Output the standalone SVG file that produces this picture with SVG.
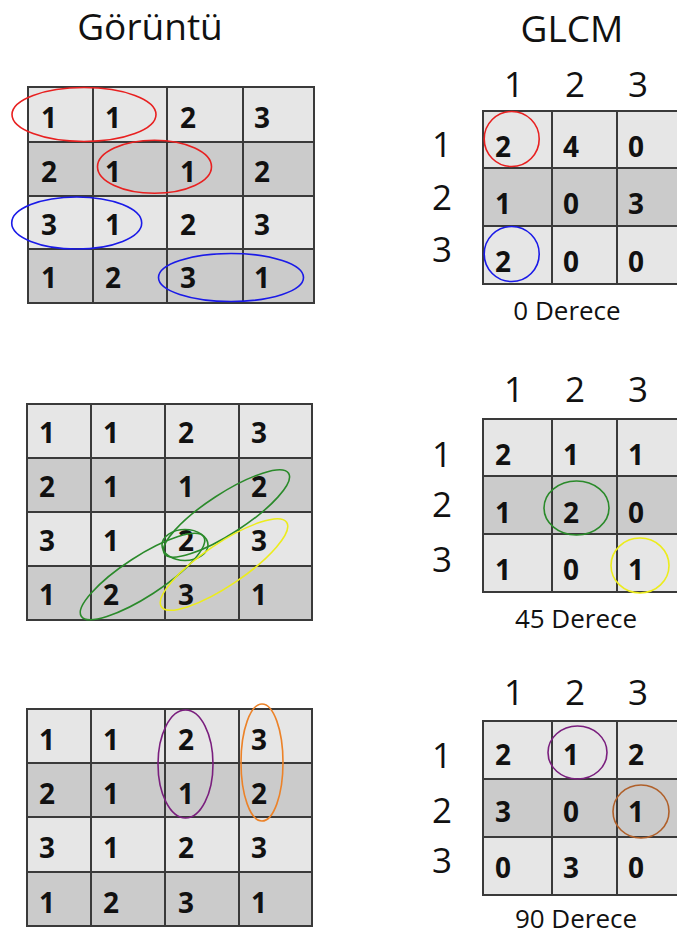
<svg xmlns="http://www.w3.org/2000/svg" width="677" height="935" viewBox="0 0 677 935">
<style>
text{font-family:"Open Sans","Noto Sans","DejaVu Sans",sans-serif;fill:#111}
.t{font-size:37px;text-anchor:middle}
.h{font-size:35px;text-anchor:middle}
.c{font-size:28px;font-weight:bold}
.cap{font-size:26px;text-anchor:middle}
.l{fill:#e6e6e6;stroke:#3a3a3a;stroke-width:2}
.d{fill:#cbcbcb;stroke:#3a3a3a;stroke-width:2}
.m{fill:none;stroke-width:1.6}
</style>
<rect width="677" height="935" fill="#fff"/>
<text class="t" x="150" y="40">Görüntü</text>
<text class="t" x="572" y="42">GLCM</text>

<!-- Left grid 1 -->
<g id="grid0">
<rect class="l" x="28" y="87" width="65" height="55"/><rect class="l" x="93" y="87" width="74" height="55"/><rect class="l" x="167" y="87" width="76" height="55"/><rect class="l" x="243" y="87" width="71" height="55"/>
<rect class="d" x="28" y="142" width="65" height="54"/><rect class="d" x="93" y="142" width="74" height="54"/><rect class="d" x="167" y="142" width="76" height="54"/><rect class="d" x="243" y="142" width="71" height="54"/>
<rect class="l" x="28" y="196" width="65" height="53"/><rect class="l" x="93" y="196" width="74" height="53"/><rect class="l" x="167" y="196" width="76" height="53"/><rect class="l" x="243" y="196" width="71" height="53"/>
<rect class="d" x="28" y="249" width="65" height="54"/><rect class="d" x="93" y="249" width="74" height="54"/><rect class="d" x="167" y="249" width="76" height="54"/><rect class="d" x="243" y="249" width="71" height="54"/>
<text class="c" x="41" y="128">1</text><text class="c" x="105" y="128">1</text><text class="c" x="180" y="128">2</text><text class="c" x="254" y="128">3</text>
<text class="c" x="41" y="182">2</text><text class="c" x="105" y="182">1</text><text class="c" x="180" y="182">1</text><text class="c" x="254" y="182">2</text>
<text class="c" x="41" y="235">3</text><text class="c" x="105" y="235">1</text><text class="c" x="180" y="235">2</text><text class="c" x="254" y="235">3</text>
<text class="c" x="41" y="288">1</text><text class="c" x="105" y="288">2</text><text class="c" x="180" y="288">3</text><text class="c" x="254" y="288">1</text>
</g>

<!-- Left grid 2 -->
<g id="grid45">
<rect class="l" x="27" y="404" width="64" height="54"/><rect class="l" x="91" y="404" width="74" height="54"/><rect class="l" x="165" y="404" width="74" height="54"/><rect class="l" x="239" y="404" width="73" height="54"/>
<rect class="d" x="27" y="458" width="64" height="54"/><rect class="d" x="91" y="458" width="74" height="54"/><rect class="d" x="165" y="458" width="74" height="54"/><rect class="d" x="239" y="458" width="73" height="54"/>
<rect class="l" x="27" y="512" width="64" height="54"/><rect class="l" x="91" y="512" width="74" height="54"/><rect class="l" x="165" y="512" width="74" height="54"/><rect class="l" x="239" y="512" width="73" height="54"/>
<rect class="d" x="27" y="566" width="64" height="54"/><rect class="d" x="91" y="566" width="74" height="54"/><rect class="d" x="165" y="566" width="74" height="54"/><rect class="d" x="239" y="566" width="73" height="54"/>
<text class="c" x="39" y="443">1</text><text class="c" x="103" y="443">1</text><text class="c" x="178" y="443">2</text><text class="c" x="251" y="443">3</text>
<text class="c" x="39" y="497">2</text><text class="c" x="103" y="497">1</text><text class="c" x="178" y="497">1</text><text class="c" x="251" y="497">2</text>
<text class="c" x="39" y="551">3</text><text class="c" x="103" y="551">1</text><text class="c" x="178" y="551">2</text><text class="c" x="251" y="551">3</text>
<text class="c" x="39" y="605">1</text><text class="c" x="103" y="605">2</text><text class="c" x="178" y="605">3</text><text class="c" x="251" y="605">1</text>
</g>

<!-- Left grid 3 -->
<g id="grid90">
<rect class="l" x="27" y="709" width="64" height="54"/><rect class="l" x="91" y="709" width="74" height="54"/><rect class="l" x="165" y="709" width="74" height="54"/><rect class="l" x="239" y="709" width="73" height="54"/>
<rect class="d" x="27" y="763" width="64" height="54"/><rect class="d" x="91" y="763" width="74" height="54"/><rect class="d" x="165" y="763" width="74" height="54"/><rect class="d" x="239" y="763" width="73" height="54"/>
<rect class="l" x="27" y="817" width="64" height="55"/><rect class="l" x="91" y="817" width="74" height="55"/><rect class="l" x="165" y="817" width="74" height="55"/><rect class="l" x="239" y="817" width="73" height="55"/>
<rect class="d" x="27" y="872" width="64" height="54"/><rect class="d" x="91" y="872" width="74" height="54"/><rect class="d" x="165" y="872" width="74" height="54"/><rect class="d" x="239" y="872" width="73" height="54"/>
<text class="c" x="39" y="750">1</text><text class="c" x="103" y="750">1</text><text class="c" x="178" y="750">2</text><text class="c" x="251" y="750">3</text>
<text class="c" x="39" y="804">2</text><text class="c" x="103" y="804">1</text><text class="c" x="178" y="804">1</text><text class="c" x="251" y="804">2</text>
<text class="c" x="39" y="858">3</text><text class="c" x="103" y="858">1</text><text class="c" x="178" y="858">2</text><text class="c" x="251" y="858">3</text>
<text class="c" x="39" y="913">1</text><text class="c" x="103" y="913">2</text><text class="c" x="178" y="913">3</text><text class="c" x="251" y="913">1</text>
</g>

<!-- GLCM 0 -->
<g id="glcm0">
<text class="h" x="514" y="97">1</text><text class="h" x="575" y="97">2</text><text class="h" x="638" y="97">3</text>
<text class="h" x="442" y="157">1</text><text class="h" x="442" y="210">2</text><text class="h" x="442" y="262">3</text>
<rect class="l" x="483" y="111" width="69" height="57"/><rect class="l" x="552" y="111" width="65" height="57"/><rect class="l" x="617" y="111" width="68" height="57"/>
<rect class="d" x="483" y="168" width="69" height="58"/><rect class="d" x="552" y="168" width="65" height="58"/><rect class="d" x="617" y="168" width="68" height="58"/>
<rect class="l" x="483" y="226" width="69" height="58"/><rect class="l" x="552" y="226" width="65" height="58"/><rect class="l" x="617" y="226" width="68" height="58"/>
<text class="c" x="495" y="157">2</text><text class="c" x="563" y="157">4</text><text class="c" x="628" y="157">0</text>
<text class="c" x="495" y="214">1</text><text class="c" x="563" y="214">0</text><text class="c" x="628" y="214">3</text>
<text class="c" x="495" y="272">2</text><text class="c" x="563" y="272">0</text><text class="c" x="628" y="272">0</text>
<text class="cap" x="567" y="320">0 Derece</text>
</g>

<!-- GLCM 45 -->
<g id="glcm45">
<text class="h" x="514" y="402">1</text><text class="h" x="575" y="402">2</text><text class="h" x="638" y="402">3</text>
<text class="h" x="442" y="467">1</text><text class="h" x="442" y="517">2</text><text class="h" x="442" y="572">3</text>
<rect class="l" x="483" y="419" width="69" height="57"/><rect class="l" x="552" y="419" width="65" height="57"/><rect class="l" x="617" y="419" width="68" height="57"/>
<rect class="d" x="483" y="476" width="69" height="58"/><rect class="d" x="552" y="476" width="65" height="58"/><rect class="d" x="617" y="476" width="68" height="58"/>
<rect class="l" x="483" y="534" width="69" height="58"/><rect class="l" x="552" y="534" width="65" height="58"/><rect class="l" x="617" y="534" width="68" height="58"/>
<text class="c" x="495" y="465">2</text><text class="c" x="563" y="465">1</text><text class="c" x="628" y="465">1</text>
<text class="c" x="495" y="523">1</text><text class="c" x="563" y="523">2</text><text class="c" x="628" y="523">0</text>
<text class="c" x="495" y="580">1</text><text class="c" x="563" y="580">0</text><text class="c" x="628" y="580">1</text>
<text class="cap" x="576" y="628">45 Derece</text>
</g>

<!-- GLCM 90 -->
<g id="glcm90">
<text class="h" x="514" y="705">1</text><text class="h" x="575" y="705">2</text><text class="h" x="638" y="705">3</text>
<text class="h" x="442" y="768">1</text><text class="h" x="442" y="823">2</text><text class="h" x="442" y="873">3</text>
<rect class="l" x="483" y="721" width="69" height="58"/><rect class="l" x="552" y="721" width="65" height="58"/><rect class="l" x="617" y="721" width="68" height="58"/>
<rect class="d" x="483" y="779" width="69" height="58"/><rect class="d" x="552" y="779" width="65" height="58"/><rect class="d" x="617" y="779" width="68" height="58"/>
<rect class="l" x="483" y="837" width="69" height="58"/><rect class="l" x="552" y="837" width="65" height="58"/><rect class="l" x="617" y="837" width="68" height="58"/>
<text class="c" x="495" y="765">2</text><text class="c" x="563" y="765">1</text><text class="c" x="628" y="765">2</text>
<text class="c" x="495" y="822">3</text><text class="c" x="563" y="822">0</text><text class="c" x="628" y="822">1</text>
<text class="c" x="495" y="878">0</text><text class="c" x="563" y="878">3</text><text class="c" x="628" y="878">0</text>
<text class="cap" x="576" y="928">90 Derece</text>
</g>

<!-- highlight marks -->
<g id="connectors">
<ellipse class="m" stroke="#e82020" cx="84" cy="114.5" rx="72" ry="27"/>
<ellipse class="m" stroke="#e82020" cx="154.5" cy="166.7" rx="57" ry="26.5"/>
<ellipse class="m" stroke="#1a1ae8" cx="76.7" cy="223" rx="65" ry="26"/>
<ellipse class="m" stroke="#1a1ae8" cx="231" cy="277.5" rx="72.5" ry="24"/>
<circle class="m" stroke="#e82020" cx="511.7" cy="139" r="27.5"/>
<circle class="m" stroke="#1a1ae8" cx="511.7" cy="254" r="27.5"/>

<ellipse class="m" stroke="#2a8a2a" transform="translate(142.5 576.5) rotate(-33)" rx="73" ry="20"/>
<ellipse class="m" stroke="#2a8a2a" transform="translate(226.5 513.5) rotate(-33)" rx="74" ry="20"/>
<ellipse class="m" stroke="#2a8a2a" cx="185" cy="545" rx="23" ry="15.5"/>
<ellipse class="m" stroke="#ecec1c" transform="translate(224 564.5) rotate(-34)" rx="75.5" ry="21"/>
<ellipse class="m" stroke="#2a8a2a" cx="576.5" cy="508" rx="32.5" ry="27"/>
<ellipse class="m" stroke="#ecec1c" cx="640" cy="565.5" rx="29" ry="27.5"/>

<ellipse class="m" stroke="#7a1f7e" cx="185.5" cy="764" rx="27.5" ry="54"/>
<ellipse class="m" stroke="#ec8228" cx="262" cy="762.5" rx="21" ry="58.5"/>
<ellipse class="m" stroke="#7a1f7e" cx="577.5" cy="752.5" rx="29.5" ry="26.5"/>
<ellipse class="m" stroke="#b0602a" cx="641" cy="811.5" rx="28" ry="26.5"/>
</g>
</svg>
